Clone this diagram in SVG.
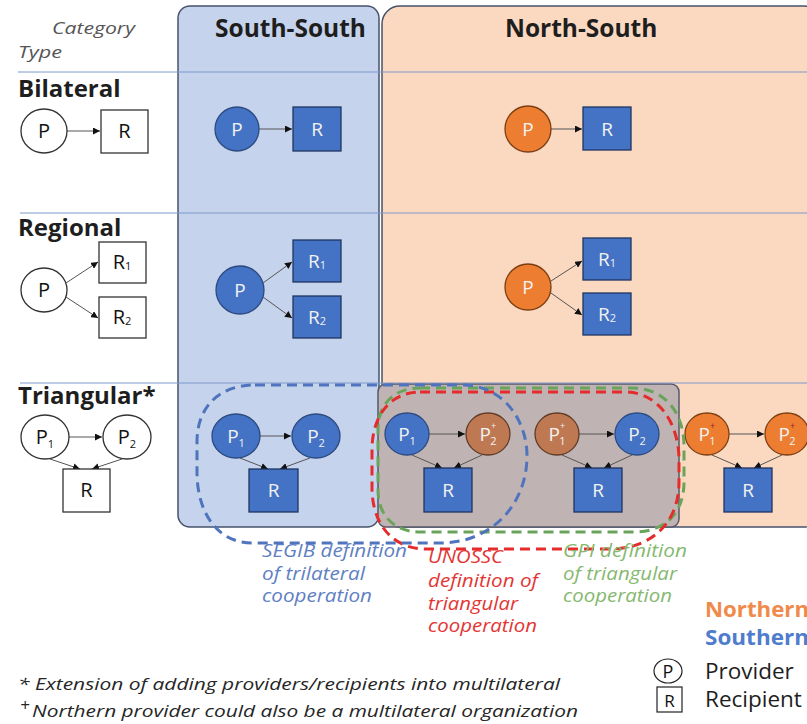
<svg xmlns="http://www.w3.org/2000/svg" width="807" height="724" viewBox="0 0 807 724">
<defs>
<marker id="ah" viewBox="0 0 10 10" refX="10" refY="5" markerWidth="7" markerHeight="7" orient="auto" markerUnits="userSpaceOnUse"><path d="M0,0 L10,5 L0,10 z" fill="#111"/></marker>
<style>
.panelS{fill:#c6d3ec;stroke:#46536b;stroke-width:1.5}
.panelN{fill:#fbd8c0;stroke:#46536b;stroke-width:1.5}
.grid{stroke:#7f98cc;stroke-width:1}
.title{font-family:"Open Sans",sans-serif;font-weight:bold;fill:#1e1e1e}
.cat{font-family:"Open Sans",sans-serif;font-style:italic;fill:#555;font-size:17px}
.wn{fill:#fff;stroke:#333;stroke-width:1.3}
.bn{fill:#4472c4;stroke:#2c4a80;stroke-width:1.3}
.on{fill:#ed7d31;stroke:#7a3e12;stroke-width:1.3}
.brn{fill:#bf7952;stroke:#5e3a26;stroke-width:1.3}
.br{fill:#4472c4;stroke:#1f3561;stroke-width:1.3}
.wr{fill:#fff;stroke:#333;stroke-width:1.3}
.lk{fill:#111;font-family:"Open Sans",sans-serif;font-size:20px;text-anchor:middle}
.lw{fill:#f2f2f2;font-family:"Open Sans",sans-serif;font-size:19px;text-anchor:middle}
.edge{stroke:#555;stroke-width:1;fill:none;marker-end:url(#ah)}
.sub{font-size:11px}
.sup{font-size:9px}
.lab{font-family:"Open Sans",sans-serif;font-style:italic;font-size:18px}
.dash{fill:none;stroke-width:3;stroke-dasharray:10 6}
.foot{font-family:"Open Sans",sans-serif;font-style:italic;font-size:17px;fill:#262626}
.leg{font-family:"Open Sans",sans-serif;font-size:22.5px;fill:#1e1e1e}
.legh{font-family:"Open Sans",sans-serif;font-weight:bold;font-size:21px}
</style>
</defs>
<rect width="807" height="724" fill="#fff"/>

<g id="panel-south-south"><rect class="panelS" x="178" y="6" width="201" height="521" rx="12"/></g>
<g id="panel-north-south"><rect class="panelN" x="382" y="6" width="440" height="521" rx="18"/></g>
<g id="panel-overlap"><rect x="378" y="384" width="301" height="143" rx="8" fill="#bfb4b3" stroke="#55596a" stroke-width="1.5"/></g>

<g id="grid">
<line class="grid" x1="18" y1="72" x2="807" y2="72"/>
<line class="grid" x1="20" y1="213" x2="807" y2="213"/>
<line class="grid" x1="20" y1="383" x2="807" y2="383"/>
</g>

<g id="headers">
<text class="cat" x="52" y="34" textLength="83" lengthAdjust="spacingAndGlyphs">Category</text>
<text class="cat" x="18" y="58" textLength="44" lengthAdjust="spacingAndGlyphs">Type</text>
<text class="title" x="215" y="37" font-size="24.5">South-South</text>
<text class="title" x="505" y="37" font-size="24.5">North-South</text>
<text class="title" x="18" y="97" font-size="24">Bilateral</text>
<text class="title" x="18" y="236" font-size="24">Regional</text>
<text class="title" x="18" y="404" font-size="24">Triangular*</text>
</g>

<g id="connectors">
<line class="edge" x1="67" y1="131" x2="100" y2="131"/>
<line class="edge" x1="66" y1="283" x2="98" y2="262"/>
<line class="edge" x1="66" y1="297" x2="98" y2="318"/>
<line class="edge" x1="69" y1="437" x2="102" y2="437"/>
<line class="edge" x1="50" y1="459" x2="80" y2="469"/>
<line class="edge" x1="122" y1="459" x2="92" y2="469"/>

<line class="edge" x1="259" y1="129" x2="292" y2="129"/>
<line class="edge" x1="263" y1="283" x2="292" y2="262"/>
<line class="edge" x1="263" y1="297" x2="292" y2="318"/>
<line class="edge" x1="260" y1="436" x2="291" y2="436"/>
<line class="edge" x1="240" y1="458" x2="268" y2="469"/>
<line class="edge" x1="310" y1="458" x2="280" y2="469"/>

<line class="edge" x1="551" y1="129" x2="582" y2="129"/>
<line class="edge" x1="551" y1="281" x2="582" y2="261"/>
<line class="edge" x1="551" y1="293" x2="582" y2="315"/>

<line class="edge" x1="429" y1="434" x2="465" y2="434"/>
<line class="edge" x1="412" y1="455" x2="442" y2="468"/>
<line class="edge" x1="482" y1="455" x2="454" y2="468"/>
<line class="edge" x1="579" y1="434" x2="614" y2="434"/>
<line class="edge" x1="562" y1="455" x2="592" y2="468"/>
<line class="edge" x1="632" y1="455" x2="604" y2="468"/>
<line class="edge" x1="729" y1="434" x2="764" y2="434"/>
<line class="edge" x1="712" y1="455" x2="742" y2="468"/>
<line class="edge" x1="782" y1="455" x2="754" y2="468"/>
</g>

<!-- left column -->
<g id="type-bilateral-P"><ellipse class="wn" cx="44" cy="131" rx="23" ry="22"/><text class="lk" x="44" y="138">P</text></g>
<g id="type-bilateral-R"><rect class="wr" x="101" y="110" width="47" height="43"/><text class="lk" x="124.5" y="138">R</text></g>
<g id="type-regional-P"><ellipse class="wn" cx="44" cy="290" rx="23" ry="22"/><text class="lk" x="44" y="297">P</text></g>
<g id="type-regional-R1"><rect class="wr" x="99" y="242" width="47" height="41"/><text class="lk" x="122" y="269">R<tspan class="sub" dy="1">1</tspan></text></g>
<g id="type-regional-R2"><rect class="wr" x="99" y="297" width="47" height="41"/><text class="lk" x="122" y="324">R<tspan class="sub" dy="1">2</tspan></text></g>
<g id="type-tri-P1"><ellipse class="wn" cx="45" cy="437" rx="24" ry="22"/><text class="lk" x="45" y="444">P<tspan class="sub" dy="4">1</tspan></text></g>
<g id="type-tri-P2"><ellipse class="wn" cx="127" cy="437" rx="24" ry="22"/><text class="lk" x="127" y="444">P<tspan class="sub" dy="4">2</tspan></text></g>
<g id="type-tri-R"><rect class="wr" x="63" y="469" width="47" height="43"/><text class="lk" x="86.5" y="497">R</text></g>

<!-- South-South -->
<g id="ss-bilateral-P"><circle class="bn" cx="237" cy="129" r="22"/><text class="lw" x="237" y="136">P</text></g>
<g id="ss-bilateral-R"><rect class="br" x="293" y="107" width="48" height="44"/><text class="lw" x="317" y="136">R</text></g>
<g id="ss-regional-P"><circle class="bn" cx="240" cy="290" r="24"/><text class="lw" x="240" y="297">P</text></g>
<g id="ss-regional-R1"><rect class="br" x="293" y="240" width="48" height="42"/><text class="lw" x="317" y="268">R<tspan class="sub" dy="1">1</tspan></text></g>
<g id="ss-regional-R2"><rect class="br" x="293" y="296" width="48" height="42"/><text class="lw" x="317" y="324">R<tspan class="sub" dy="1">2</tspan></text></g>
<g id="ss-tri-P1"><ellipse class="bn" cx="236" cy="436" rx="24" ry="22"/><text class="lw" x="236" y="443">P<tspan class="sub" dy="4">1</tspan></text></g>
<g id="ss-tri-P2"><ellipse class="bn" cx="316" cy="436" rx="24" ry="22"/><text class="lw" x="316" y="443">P<tspan class="sub" dy="4">2</tspan></text></g>
<g id="ss-tri-R"><rect class="br" x="249" y="469" width="49" height="43"/><text class="lw" x="273.5" y="497">R</text></g>

<!-- North-South -->
<g id="ns-bilateral-P"><circle class="on" cx="528" cy="129" r="23"/><text class="lw" x="528" y="136">P</text></g>
<g id="ns-bilateral-R"><rect class="br" x="583" y="107" width="48" height="43"/><text class="lw" x="607" y="136">R</text></g>
<g id="ns-regional-P"><circle class="on" cx="528" cy="287" r="23"/><text class="lw" x="528" y="294">P</text></g>
<g id="ns-regional-R1"><rect class="br" x="583" y="238" width="48" height="42"/><text class="lw" x="607" y="266">R<tspan class="sub" dy="1">1</tspan></text></g>
<g id="ns-regional-R2"><rect class="br" x="583" y="293" width="48" height="42"/><text class="lw" x="607" y="321">R<tspan class="sub" dy="1">2</tspan></text></g>

<g id="ns-tri1-P1"><ellipse class="bn" cx="407" cy="434" rx="22" ry="21"/><text class="lw" x="407" y="441">P<tspan class="sub" dy="4">1</tspan></text></g>
<g id="ns-tri1-P2"><ellipse class="brn" cx="488" cy="434" rx="22" ry="21"/><text class="lw" x="488" y="441" fill="#f0d8c8">P<tspan class="sup" dy="-12">+</tspan><tspan class="sub" dx="-6" dy="16">2</tspan></text></g>
<g id="ns-tri1-R"><rect class="br" x="424" y="468" width="48" height="44"/><text class="lw" x="448" y="497">R</text></g>
<g id="ns-tri2-P1"><ellipse class="brn" cx="557" cy="434" rx="22" ry="21"/><text class="lw" x="557" y="441" fill="#f0d8c8">P<tspan class="sup" dy="-12">+</tspan><tspan class="sub" dx="-6" dy="16">1</tspan></text></g>
<g id="ns-tri2-P2"><ellipse class="bn" cx="637" cy="434" rx="22" ry="21"/><text class="lw" x="637" y="441">P<tspan class="sub" dy="4">2</tspan></text></g>
<g id="ns-tri2-R"><rect class="br" x="574" y="468" width="48" height="44"/><text class="lw" x="598" y="497">R</text></g>
<g id="ns-tri3-P1"><ellipse class="on" cx="707" cy="434" rx="22" ry="21"/><text class="lw" x="707" y="441" fill="#fbe3d2">P<tspan class="sup" dy="-12" fill="#a02020">+</tspan><tspan class="sub" dx="-6" dy="16">1</tspan></text></g>
<g id="ns-tri3-P2"><ellipse class="on" cx="787" cy="434" rx="22" ry="21"/><text class="lw" x="787" y="441" fill="#fbe3d2">P<tspan class="sup" dy="-12" fill="#a02020">+</tspan><tspan class="sub" dx="-6" dy="16">2</tspan></text></g>
<g id="ns-tri3-R"><rect class="br" x="724" y="468" width="48" height="44"/><text class="lw" x="748" y="497">R</text></g>

<g id="definitions">
<path class="dash" stroke="#6aa35a" stroke-width="2.5" d="M420,388 H632 C666,388 684,414 684,446 V482 C684,514 664,532 634,532 H420 C394,532 378,515 378,490 V430 C378,404 394,388 420,388 Z"/>
<path class="dash" stroke="#e52b2b" d="M420,392 H625 C659,392 679,424 679,460 V482 C679,524 650,549 610,549 H426 C391,549 372,522 372,488 V450 C372,416 390,392 420,392 Z"/>
<path class="dash" stroke="#4f74bd" d="M255,385 H462 C503,385 527,420 527,456 C527,502 494,543 440,543 H252 C217,543 197,512 197,472 V442 C197,406 220,385 255,385 Z"/>
</g>

<g id="labels">
<text class="lab" fill="#5f80c2" x="262" y="557" textLength="145" lengthAdjust="spacingAndGlyphs">SEGIB definition</text>
<text class="lab" fill="#5f80c2" x="262" y="580" textLength="103" lengthAdjust="spacingAndGlyphs">of trilateral</text>
<text class="lab" fill="#5f80c2" x="262" y="602" textLength="110" lengthAdjust="spacingAndGlyphs">cooperation</text>
<text class="lab" fill="#e43535" x="428" y="563" textLength="75" lengthAdjust="spacingAndGlyphs">UNOSSC</text>
<text class="lab" fill="#e43535" x="428" y="587" textLength="110" lengthAdjust="spacingAndGlyphs">definition of</text>
<text class="lab" fill="#e43535" x="428" y="610" textLength="90" lengthAdjust="spacingAndGlyphs">triangular</text>
<text class="lab" fill="#e43535" x="428" y="632" textLength="109" lengthAdjust="spacingAndGlyphs">cooperation</text>
<text class="lab" fill="#86b870" x="563" y="557" textLength="124" lengthAdjust="spacingAndGlyphs">GPI definition</text>
<text class="lab" fill="#86b870" x="563" y="580" textLength="114" lengthAdjust="spacingAndGlyphs">of triangular</text>
<text class="lab" fill="#86b870" x="563" y="602" textLength="109" lengthAdjust="spacingAndGlyphs">cooperation</text>
</g>

<g id="legend">
<text class="legh" x="705" y="617" fill="#f08a4b" textLength="104" lengthAdjust="spacingAndGlyphs">Northern</text>
<text class="legh" x="705" y="645" fill="#4f7ccc" textLength="104" lengthAdjust="spacingAndGlyphs">Southern</text>
<ellipse cx="668" cy="671" rx="14" ry="12" fill="#fff" stroke="#222" stroke-width="1.2"/>
<text x="668" y="678" font-family="'Open Sans',sans-serif" font-size="18" fill="#111" text-anchor="middle">P</text>
<text class="leg" x="705" y="679">Provider</text>
<rect x="657" y="687" width="25" height="25" fill="#fff" stroke="#222" stroke-width="1.2"/>
<text x="669.5" y="707" font-family="'Open Sans',sans-serif" font-size="17" fill="#111" text-anchor="middle">R</text>
<text class="leg" x="705" y="707">Recipient</text>
</g>

<g id="footnotes">
<text class="foot" x="18" y="690" textLength="542" lengthAdjust="spacingAndGlyphs">* Extension of adding providers/recipients into multilateral</text>
<text class="foot" x="20" y="711" font-size="10">+</text>
<text class="foot" x="32" y="717" textLength="546" lengthAdjust="spacingAndGlyphs">Northern provider could also be a multilateral organization</text>
</g>
</svg>
